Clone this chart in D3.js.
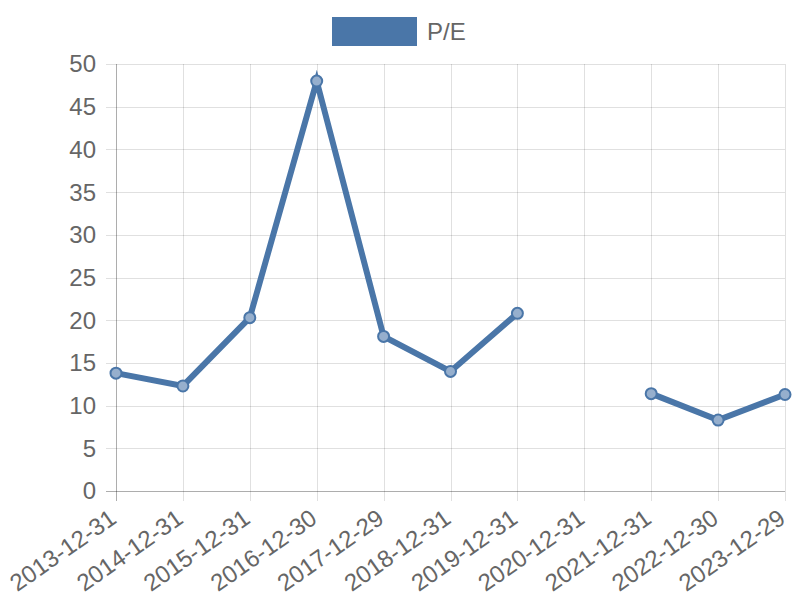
<!DOCTYPE html>
<html>
<head>
<meta charset="utf-8">
<script src="https://cdn.jsdelivr.net/npm/d3@7"></script>
<style>
  body { margin: 0; background: #fff; }
  text { font-family: "Liberation Sans", Arial, sans-serif; fill: #666; }
</style>
</head>
<body>
<svg width="800" height="600"></svg>
<script>
const dates = ["2013-12-31", "2014-12-31", "2015-12-31", "2016-12-30", "2017-12-29",
  "2018-12-31", "2019-12-31", "2020-12-31", "2021-12-31", "2022-12-30", "2023-12-29"];
const peValues = [13.8, 12.3, 20.3, 48.0, 18.1, 14.0, 20.8, null, 11.4, 8.3, 11.3];
const yTicks = [0, 5, 10, 15, 20, 25, 30, 35, 40, 45, 50];
const seriesName = "P/E";

const lineColor = "#4a76a8",
    gridColor = "rgba(0,0,0,0.12)",
    axisColor = "rgba(0,0,0,0.32)";

var svg = d3.select("svg"),
    plotLeft = 116, plotRight = 785, plotTop = 64, plotBottom = 491;

var x = d3.scalePoint().domain(dates).range([plotLeft, plotRight]);
var y = d3.scaleLinear().domain([0, 50]).range([plotBottom, plotTop]);

// legend
var legend = svg.append("g");
legend.append("rect")
    .attr("x", 332).attr("y", 17).attr("width", 85).attr("height", 29)
    .attr("fill", lineColor);
legend.append("text")
    .attr("x", 427).attr("y", 40)
    .style("font-size", "24px")
    .text(seriesName);

// horizontal grid + y ticks
svg.append("g").selectAll("line")
  .data(yTicks)
  .enter().append("line")
    .attr("x1", plotLeft - 10).attr("x2", plotRight)
    .attr("y1", d => Math.round(y(d)) + 0.5).attr("y2", d => Math.round(y(d)) + 0.5)
    .attr("stroke", d => d === 0 ? axisColor : gridColor)
    .attr("stroke-width", 1);

svg.append("g").selectAll("text")
  .data(yTicks)
  .enter().append("text")
    .attr("x", 96).attr("y", d => y(d))
    .attr("dy", "0.35em")
    .attr("text-anchor", "end")
    .style("font-size", "24px")
    .text(d => d);

// vertical grid + x ticks
svg.append("g").selectAll("line")
  .data(dates)
  .enter().append("line")
    .attr("x1", d => Math.round(x(d)) + 0.5).attr("x2", d => Math.round(x(d)) + 0.5)
    .attr("y1", plotTop).attr("y2", plotBottom + 10)
    .attr("stroke", (d, i) => i === 0 ? axisColor : gridColor)
    .attr("stroke-width", 1);

svg.append("g").selectAll("text")
  .data(dates)
  .enter().append("text")
    .attr("text-anchor", "end")
    .attr("transform", d => "translate(" + (x(d) - 3) + "," + (plotBottom + 24) + ") rotate(-35)")
    .attr("dy", "0.35em")
    .style("font-size", "24px")
    .text(d => d);

// line
var pts = dates.map((d, i) => ({ date: d, v: peValues[i] }));

var line = d3.line()
    .defined(d => d.v !== null)
    .x(d => x(d.date))
    .y(d => y(d.v));

svg.append("path")
    .datum(pts)
    .attr("d", line)
    .attr("fill", "none")
    .attr("stroke", lineColor)
    .attr("stroke-width", 6)
    .attr("stroke-linejoin", "miter");

svg.append("g").selectAll("circle")
  .data(pts.filter(d => d.v !== null))
  .enter().append("circle")
    .attr("cx", d => x(d.date))
    .attr("cy", d => y(d.v))
    .attr("r", 5.5)
    .attr("fill", "rgba(150,175,205,1)")
    .attr("stroke", lineColor)
    .attr("stroke-width", 2);
</script>
</body>
</html>
